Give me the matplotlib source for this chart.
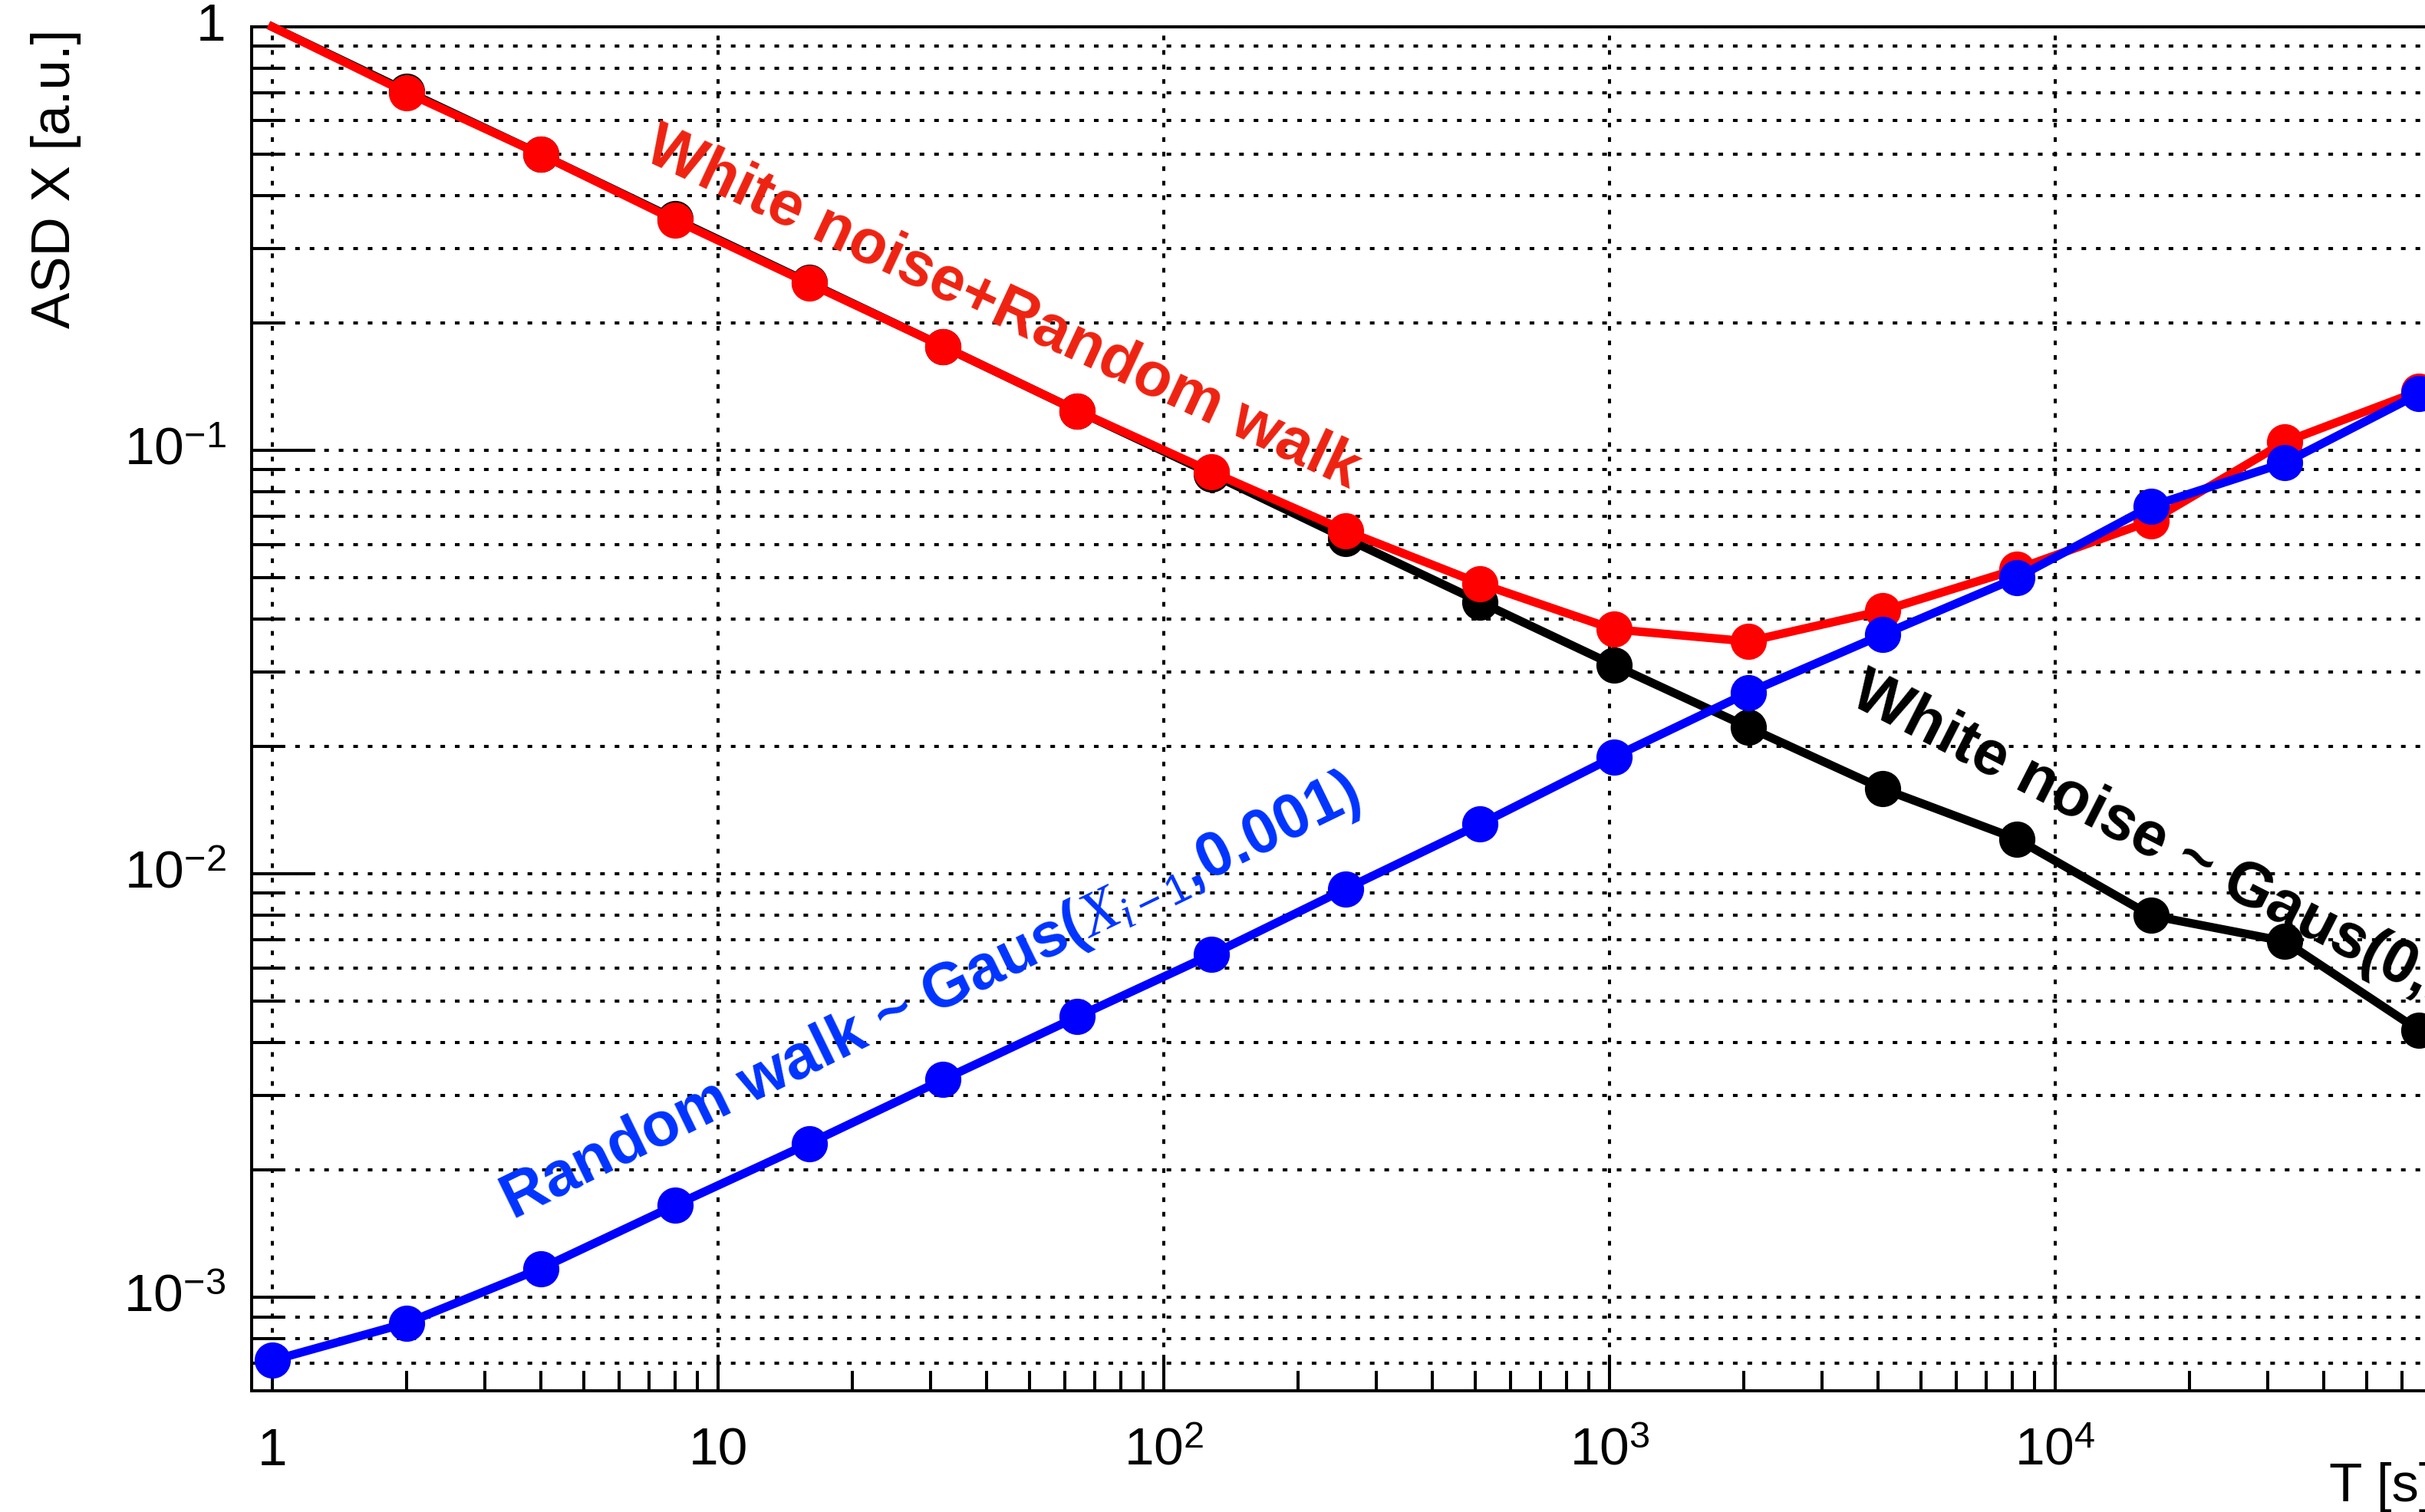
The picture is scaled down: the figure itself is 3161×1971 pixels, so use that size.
import matplotlib
matplotlib.use('Agg')
import matplotlib.pyplot as plt
from matplotlib.ticker import FixedLocator, FixedFormatter, NullFormatter

plt.rcParams['font.family'] = ['Liberation Sans', 'DejaVu Sans']
plt.rcParams['mathtext.fontset'] = 'custom'
plt.rcParams['mathtext.rm'] = 'Liberation Sans'
plt.rcParams['mathtext.it'] = 'Liberation Serif:italic'
plt.rcParams['mathtext.bf'] = 'Liberation Sans:bold'

# averaging time T [s]
T = [1, 2, 4, 8, 16, 32, 64, 128, 256, 512, 1024, 2048, 4096, 8192,
     16384, 32768, 65536]

# ASD values
white = [1.0, 0.705, 0.5, 0.352, 0.249, 0.176, 0.124, 0.088, 0.062, 0.0439,
         0.0311, 0.0222, 0.0159, 0.0121, 0.00798, 0.00693, 0.00427]
white_rw = [1.0, 0.70, 0.50, 0.35, 0.248, 0.176, 0.124, 0.089, 0.0646, 0.0485,
            0.0378, 0.0354, 0.0418, 0.0524, 0.0681, 0.1047, 0.138]
rw = [7.1e-4, 8.7e-4, 1.17e-3, 1.65e-3, 2.31e-3, 3.27e-3, 4.6e-3, 6.45e-3,
      9.22e-3, 0.0131, 0.0189, 0.0268, 0.0367, 0.050, 0.0738, 0.0935, 0.136]

xticks = [1, 10, 100, 1000, 10000]
xticklabels = ['1', '10', '$10^{2}$', '$10^{3}$', '$10^{4}$']
yticks = [1e-3, 1e-2, 1e-1, 1]
yticklabels = ['$10^{-3}$', '$10^{-2}$', '$10^{-1}$', '1']

W, H = 3161, 1971
fig = plt.figure(figsize=(W / 100, H / 100), dpi=100)
# the frame runs a little past the right edge of the picture
ax = fig.add_axes([328 / W, 1 - 1812.6 / H, (3172 - 328) / W, (1812.6 - 35) / H])
ax.set_xscale('log')
ax.set_yscale('log')
ax.set_xlim(0.8985, 70580)
ax.set_ylim(6.03e-4, 1)

lw = 8
ms = 34
ax.plot(T, white, color='black', lw=lw, marker='o', ms=ms, mew=0,
        markevery=slice(1, None), clip_on=False, zorder=3)
ax.plot(T, white_rw, color='#ff0000', lw=lw, marker='o', ms=ms, mew=0,
        markevery=slice(1, None), clip_on=False, zorder=4)
ax.plot(T, rw, color='#0000ff', lw=lw, marker='o', ms=ms, mew=0,
        clip_on=False, zorder=5)

# ticks
minor_x = [m * 10 ** e for e in range(0, 5) for m in range(2, 10)]
minor_y = [m * 10.0 ** e for e in range(-4, 0) for m in range(2, 10)]
ax.xaxis.set_major_locator(FixedLocator(xticks))
ax.xaxis.set_major_formatter(FixedFormatter(xticklabels))
ax.xaxis.set_minor_locator(FixedLocator(minor_x))
ax.xaxis.set_minor_formatter(NullFormatter())
ax.yaxis.set_major_locator(FixedLocator(yticks))
ax.yaxis.set_major_formatter(FixedFormatter(yticklabels))
ax.yaxis.set_minor_locator(FixedLocator(minor_y))
ax.yaxis.set_minor_formatter(NullFormatter())

ax.tick_params(axis='x', which='major', direction='in', length=34, width=2.9,
               labelsize=50, pad=70, top=False)
ax.tick_params(axis='x', which='minor', direction='in', length=19, width=2.9,
               top=False)
ax.tick_params(axis='y', which='major', direction='in', length=60, width=2.9,
               labelsize=50, pad=24, right=False)
ax.tick_params(axis='y', which='minor', direction='in', length=30, width=2.9,
               right=False)
for lab in ax.get_xticklabels():
    lab.set_verticalalignment('baseline')
for lab in ax.get_yticklabels():
    lab.set_verticalalignment('center')

for sp in ax.spines.values():
    sp.set_linewidth(2.9)

grid_style = dict(color='black', lw=2.9, linestyle=(0, (1.5, 3.2)))
ax.grid(True, which='major', axis='both', **grid_style)
ax.grid(True, which='minor', axis='y', **grid_style)
ax.set_axisbelow(True)

# axis titles
fig.text(40 / W, 1 - 38 / H, 'ASD X [a.u.]', rotation=90, ha='left',
         va='top', fontsize=51)
fig.text(3036 / W, 1 - 1957 / H, 'T [s]', ha='left', va='baseline',
         fontsize=51)

# curve labels
fig.text(836 / W, 1 - 207 / H, 'White noise+Random walk', color='#ee2211',
         fontsize=58, fontweight='bold', rotation=-25, rotation_mode='anchor',
         ha='left', va='baseline')
fig.text(2409 / W, 1 - 917 / H, 'White noise ~ Gaus(0,1)', color='black',
         fontsize=58, fontweight='bold', rotation=-27, rotation_mode='anchor',
         ha='left', va='baseline')
fig.text(668 / W, 1 - 1590 / H,
         r'Random walk ~ Gaus($X_{i-\mathit{1}}$,0.001)', color='#0033ff',
         fontsize=58, fontweight='bold', rotation=26, rotation_mode='anchor',
         ha='left', va='baseline')

fig.savefig('out.png', dpi=100)
